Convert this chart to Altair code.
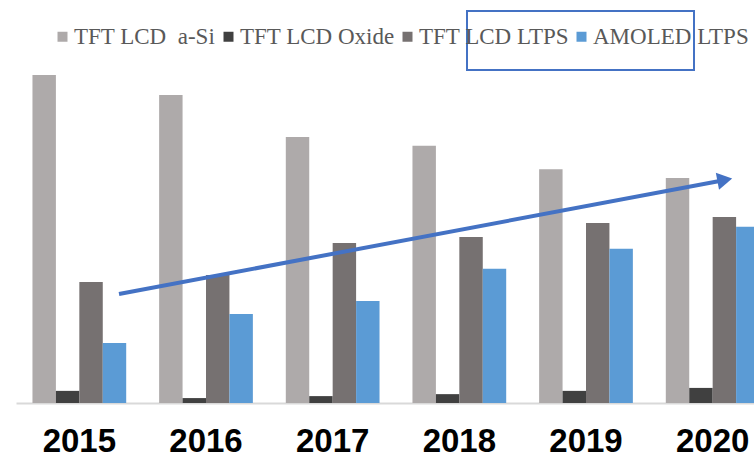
import altair as alt
import pandas as pd

years = ["2015", "2016", "2017", "2018", "2019", "2020"]
series_names = ["TFT LCD \u00a0a-Si", "TFT LCD Oxide", "TFT LCD LTPS", "AMOLED LTPS"]
colors = ["#AEAAAA", "#404040", "#767171", "#5B9BD5"]

a_si = [100.0, 93.9, 81.1, 78.4, 71.3, 68.6]
oxide = [3.7, 1.5, 2.1, 2.7, 3.7, 4.6]
ltps = [36.9, 39.0, 48.8, 50.6, 54.9, 56.7]
amoled = [18.3, 27.1, 31.1, 40.9, 47.0, 53.7]

rows = []
for name, vals in zip(series_names, [a_si, oxide, ltps, amoled]):
    for y, v in zip(years, vals):
        rows.append({"year": y, "series": name, "value": v})
df = pd.DataFrame(rows)

PLOT_W = 738
PLOT_H = 328

bars = alt.Chart(df).mark_bar().encode(
    x=alt.X(
        "year:N",
        sort=years,
        scale=alt.Scale(range=[0, 760], paddingInner=0.26, paddingOuter=0.13),
        axis=alt.Axis(
            title=None, labelAngle=0, ticks=False, labelPadding=22,
            labelFont="Liberation Sans", labelFontWeight="bold", labelFontSize=33,
            labelColor="#000000", domainColor="#D9D9D9", domainWidth=2, grid=False,
        ),
    ),
    xOffset=alt.XOffset("series:N", sort=series_names, scale=alt.Scale(paddingInner=0, paddingOuter=0)),
    y=alt.Y("value:Q", scale=alt.Scale(domain=[0, 100]), axis=None),
    color=alt.Color(
        "series:N",
        sort=series_names,
        scale=alt.Scale(domain=series_names, range=colors),
        legend=alt.Legend(
            title=None, orient="none", legendX=35, legendY=-50, direction="horizontal",
            symbolType="square", symbolSize=100, symbolStrokeWidth=0,
            labelFont="Liberation Serif", labelFontSize=23, labelColor="#595959",
            labelOffset=0, columnPadding=1, labelLimit=300, padding=0,
        ),
    ),
)

anno = alt.Data(values=[{"a": 1}])

arrow_line = alt.Chart(anno).mark_rule(color="#4472C4", strokeWidth=4).encode(
    x=alt.value(103), y=alt.value(219), x2=alt.value(709), y2=alt.value(105)
)
arrow_head = alt.Chart(anno).mark_point(
    shape="triangle-right", filled=True, color="#4472C4", opacity=1, size=300, angle=349.3
).encode(x=alt.value(708.8), y=alt.value(104.9))

box = alt.Chart(anno).mark_rect(
    fillOpacity=0, stroke="#4472C4", strokeWidth=2
).encode(x=alt.value(451), x2=alt.value(678), y=alt.value(-64), y2=alt.value(-5))

chart = alt.layer(bars, arrow_line, arrow_head, box).properties(
    width=PLOT_W,
    height=PLOT_H,
    autosize=alt.AutoSizeParams(type="none"),
    padding={"left": 16, "top": 75, "right": 0, "bottom": 55},
    background="#FFFFFF",
).configure_view(stroke=None)

chart.save("out.html", embed_options={"renderer": "svg", "actions": False})
